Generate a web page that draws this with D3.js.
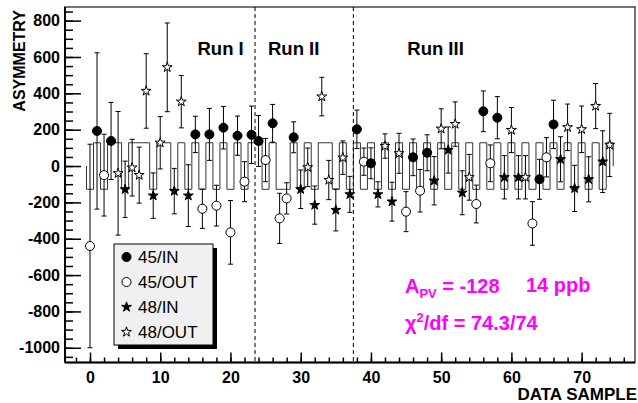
<!DOCTYPE html>
<html>
<head>
<meta charset="utf-8">
<script src="https://cdn.jsdelivr.net/npm/d3@7"></script>
<style>
  body { margin: 0; background: #fff; }
  svg { display: block; font-family: "Liberation Sans", Arial, sans-serif; }
</style>
</head>
<body>
<svg></svg>
<script>
// marker classes, in legend order
const labels = ['45/IN', '45/OUT', '48/IN', '48/OUT'];
// expected sign of the asymmetry for each class
const expectedSign = [1, -1, -1, 1];

// class index for each data sample 0..74
const sampleType = [
  1,0,1,0,3,2,3,3,3,2, 3,3,2,3,2,0,1,0,1,0,
  1,0,1,0,0,1,0,1,1,0, 2,3,2,3,3,2,3,2,0,1,
  0,2,3,2,3,1,0,1,0,2, 3,2,3,2,3,1,0,1,0,2,
  3,2,3,1,0,1,0,2,3,2, 3,2,3,2,3
];
const asym = [
  -440,193,-50,138,-40,-128,-9,-50,413,-163, 128,543,-138,354,-163,174,-235,174,-218,211,
  -365,167,-86,172,138,33,235,-288,-178,158, -128,-7,-215,382,-77,-242,46,-156,202,24,
  15,-156,110,-196,70,-251,48,-136,73,-81, 205,88,231,-147,-62,-209,301,15,266,-62,
  198,-62,-62,-316,-73,48,229,37,213,-123, 202,-73,330,24,116
];
const asymErr = [
  560,430,225,212,340,155,156,154,205,125, 144,244,125,144,170,100,108,143,112,117,
  175,108,110,158,140,119,104,138,86,85, 106,106,105,106,108,115,92,99,106,75,
  85,69,67,107,110,110,101,117,99,133, 110,127,122,121,126,104,112,101,116,119,
  124,119,119,120,110,108,133,124,128,127, 128,124,124,170,174
];

const apv = -128;
const runBreaks = [23.5, 37.5];
const runNames = ['Run I', 'Run II', 'Run III'];
const runLabelX = [18.6, 29, 49.2];

const xMajor = d3.range(0, 71, 10);
const xMinor = d3.range(-2, 78, 2);
const yMajor = d3.range(-1000, 801, 200);
const yMinor = d3.range(-1050, 876, 50);

const svg = d3.select('svg')
  .attr('width', 638)
  .attr('height', 403);

const frame = { left: 65, right: 635, top: 7, bottom: 362.5 };

const x = d3.scaleLinear().domain([-3.56, 77.6]).range([frame.left, frame.right]);
const y = d3.scaleLinear().domain([-1081, 875]).range([frame.bottom, frame.top]);

// frame
svg.append('rect')
  .attr('x', frame.left).attr('y', frame.top)
  .attr('width', frame.right - frame.left).attr('height', frame.bottom - frame.top)
  .attr('fill', '#fff')
  .attr('stroke', '#444')
  .attr('stroke-width', 1.5);

// expected asymmetry, drawn as a step histogram
const steps = [[x(-0.5), y(0)]];
sampleType.forEach((t, i) => {
  const lvl = -apv * expectedSign[t];
  steps.push([x(i - 0.5), y(lvl)], [x(i + 0.5), y(lvl)]);
});
steps.push([x(sampleType.length - 0.5), y(0)]);
svg.append('path')
  .attr('d', d3.line()(steps))
  .attr('fill', 'none')
  .attr('stroke', '#333')
  .attr('stroke-width', 1);

// run separators
svg.selectAll('.run-line')
  .data(runBreaks)
  .join('line')
    .attr('x1', d => x(d)).attr('x2', d => x(d))
    .attr('y1', frame.top).attr('y2', frame.bottom)
    .attr('stroke', '#000')
    .attr('stroke-width', 1)
    .attr('stroke-dasharray', '4,3');

svg.selectAll('.run-label')
  .data(runNames)
  .join('text')
    .attr('x', (d, i) => x(runLabelX[i]))
    .attr('y', 55)
    .attr('text-anchor', 'middle')
    .attr('font-weight', 'bold')
    .attr('font-size', 18.5)
    .text(d => d);

// error bars
const samples = asym.map((v, i) => ({ i, v, e: asymErr[i], t: sampleType[i] }));
const bars = svg.append('g').attr('stroke', '#000').attr('stroke-width', 1);
samples.forEach(d => {
  const cx = x(d.i);
  bars.append('line')
    .attr('x1', cx).attr('x2', cx)
    .attr('y1', y(d.v + d.e)).attr('y2', y(d.v - d.e));
  [d.v + d.e, d.v - d.e].forEach(w => {
    bars.append('line')
      .attr('x1', cx - 2.5).attr('x2', cx + 2.5)
      .attr('y1', y(w)).attr('y2', y(w));
  });
});

// markers
const circle = d3.symbol(d3.symbolCircle, 64);
const star = d3.symbol(d3.symbolStar, 30);
function drawMarker(g, t) {
  const isStar = t >= 2;
  const filled = t === 0 || t === 2;
  g.append('path')
    .attr('d', isStar ? star() : circle())
    .attr('fill', filled ? '#000' : '#fff')
    .attr('stroke', '#000')
    .attr('stroke-width', 1);
}
samples.forEach(d => {
  const g = svg.append('g').attr('transform', `translate(${x(d.i)},${y(d.v)})`);
  drawMarker(g, d.t);
});

// axes
const axisFont = g => g.selectAll('text')
  .attr('font-family', '"Liberation Sans", Arial, sans-serif')
  .attr('font-weight', 'bold')
  .attr('font-size', 16)
  .attr('fill', '#000');

svg.append('g')
  .attr('transform', `translate(0,${frame.bottom})`)
  .call(d3.axisBottom(x).tickValues(xMinor).tickSize(-5).tickFormat(''))
  .call(g => g.select('.domain').remove());
svg.append('g')
  .attr('transform', `translate(0,${frame.bottom})`)
  .call(d3.axisBottom(x).tickValues(xMajor).tickSize(-10).tickPadding(9).tickFormat(d => String(d)))
  .call(g => g.select('.domain').remove())
  .call(axisFont);

svg.append('g')
  .attr('transform', `translate(${frame.left},0)`)
  .call(d3.axisLeft(y).tickValues(yMinor).tickSize(-8).tickFormat(''))
  .call(g => g.select('.domain').remove());
svg.append('g')
  .attr('transform', `translate(${frame.left},0)`)
  .call(d3.axisLeft(y).tickValues(yMajor).tickSize(-16).tickPadding(5).tickFormat(d => String(d)))
  .call(g => g.select('.domain').remove())
  .call(axisFont);

svg.selectAll('.tick line').attr('stroke', '#000').attr('stroke-width', 1.5);

svg.append('line')
  .attr('x1', frame.left).attr('x2', frame.right)
  .attr('y1', frame.bottom).attr('y2', frame.bottom)
  .attr('stroke', '#000').attr('stroke-width', 2);
svg.append('line')
  .attr('x1', frame.left).attr('x2', frame.left)
  .attr('y1', frame.top).attr('y2', frame.bottom)
  .attr('stroke', '#000').attr('stroke-width', 2);

svg.append('text')
  .attr('transform', 'translate(25,10) rotate(-90)')
  .attr('text-anchor', 'end')
  .attr('font-weight', 'bold')
  .attr('font-size', 16)
  .text('ASYMMETRY');

svg.append('text')
  .attr('x', 637).attr('y', 400)
  .attr('text-anchor', 'end')
  .attr('font-weight', 'bold')
  .attr('font-size', 17)
  .text('DATA SAMPLE');

// legend
const lg = svg.append('g').attr('transform', 'translate(114,244)');
lg.append('rect')
  .attr('x', 4).attr('y', 4)
  .attr('width', 99).attr('height', 101)
  .attr('fill', '#000');
lg.append('rect')
  .attr('width', 99).attr('height', 101)
  .attr('fill', '#f0f0f0')
  .attr('stroke', '#000')
  .attr('stroke-width', 1);
labels.forEach((name, i) => {
  const row = lg.append('g').attr('transform', `translate(0,${13 + i * 25})`);
  drawMarker(row.append('g').attr('transform', 'translate(12.5,0)'), i);
  row.append('text')
    .attr('x', 24).attr('y', 6)
    .attr('font-size', 17)
    .text(name);
});

// fit results
const fit = svg.append('g')
  .attr('fill', '#ff00ff')
  .attr('font-weight', 'bold')
  .attr('font-size', 20);
const t1 = fit.append('text').attr('x', 405).attr('y', 293);
t1.append('tspan').text('A');
t1.append('tspan').attr('font-size', 13).attr('dy', 5).text('PV');
t1.append('tspan').attr('dy', -5).text(` = ${apv}`);
fit.append('text').attr('x', 526).attr('y', 292).text('14 ppb');
const t2 = fit.append('text').attr('x', 405).attr('y', 330);
t2.append('tspan').text('\u03c7');
t2.append('tspan').attr('font-size', 13).attr('dy', -8).text('2');
t2.append('tspan').attr('dy', 8).text('/df = 74.3/74');
</script>
</body>
</html>
